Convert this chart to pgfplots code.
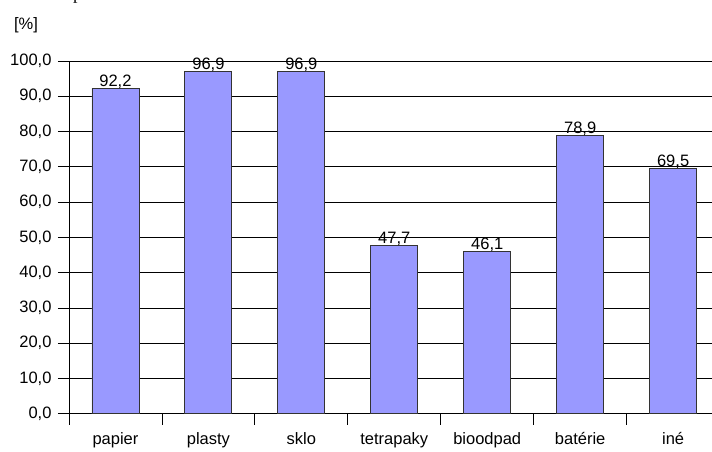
\documentclass[border=0pt]{standalone}
\usepackage{fontspec}
\setmainfont{Liberation Sans}
\newfontfamily\serifcut{Liberation Serif}
\usepackage{pgfplots}
\pgfplotsset{compat=1.18}
\definecolor{barfill}{RGB}{153,153,255}
\begin{document}
\begin{tikzpicture}
\begin{axis}[
    scale only axis,
    width=643bp,
    height=353bp,
    xmin=-0.5, xmax=6.414,
    ymin=0, ymax=100,
    axis x line*=bottom,
    axis y line*=left,
    ytick={0,10,...,100},
    ymajorgrids,
    grid style={black, line width=0.8bp},
    xtick={0,...,6},
    xticklabels={papier,plasty,sklo,tetrapaky,bioodpad,batérie,iné},
    minor xtick={-0.5,0.5,...,5.5},
    major x tick style={draw=none},
    minor x tick style={black, line width=0.8bp},
    major y tick style={black, line width=0.8bp},
    tick align=outside,
    major tick length=11bp,
    minor tick length=11bp,
    axis line style={black, line width=0.8bp},
    /pgf/number format/assume math mode=true,
    /pgf/number format/.cd, use comma, fixed, fixed zerofill, precision=1,
    /pgfplots/.cd,
    tick label style={font=\fontsize{16.5bp}{19bp}\selectfont},
    xticklabel style={anchor=base, yshift=-20bp},
    yticklabel style={xshift=-3bp},
    nodes near coords,
    every node near coord/.append style={font=\fontsize{16.5bp}{19bp}\selectfont, anchor=base, yshift=2bp, inner sep=0pt},
    clip=false,
]
\addplot[ybar, bar width=47bp, fill=barfill, draw=black!80, line width=0.8bp] coordinates {
    (0,92.2) (1,96.9) (2,96.9) (3,47.7) (4,46.1) (5,78.9) (6,69.5)
};
\coordinate (o) at (rel axis cs:0,0);
\coordinate (t) at (rel axis cs:1,1);
\end{axis}
\node[font=\fontsize{16.5bp}{19bp}\selectfont] at ([xshift=-43bp, yshift=36bp]o |- t) {[\%]};
\path[use as bounding box] ([xshift=-69bp, yshift=-37bp]o) rectangle ([yshift=61bp]t);
\node[font=\serifcut\fontsize{18bp}{20bp}\selectfont, anchor=base west, inner sep=0pt] at ([xshift=4bp, yshift=61bp]o |- t) {p};
\end{tikzpicture}
\end{document}
